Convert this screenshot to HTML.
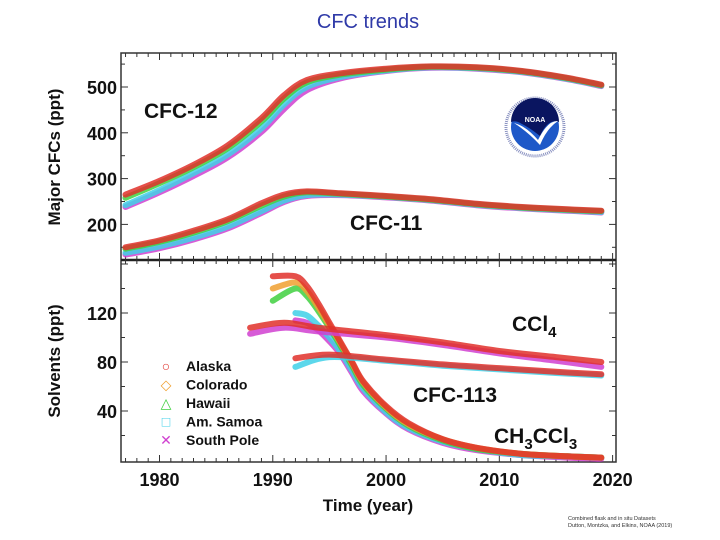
<!DOCTYPE html>
<html><head><meta charset="utf-8"><style>
body{margin:0;background:#fff;}
svg{display:block;font-family:"Liberation Sans",Arial,sans-serif;}
</style></head><body>
<svg id="chart" width="720" height="540" viewBox="0 0 720 540" xmlns="http://www.w3.org/2000/svg">
<text x="368" y="28" text-anchor="middle" font-size="20" fill="#2f3aa8">CFC trends</text>
<g id="plot"></g>
</svg>
<script>
// ---- data ----
const stations = ["Alaska","Colorado","Hawaii","Am. Samoa","South Pole"];
const stationColors = ["#e0302a","#f0a030","#40d040","#40d0e8","#d040d0"];
const cfc12Years = [1977,1980,1983,1986,1989,1991,1993,1996,2000,2004,2008,2012,2016,2019];
const cfc12Alaska = [265,295,330,372,432,482,515,530,540,545,543,535,520,505];
const cfc12Hawaii = [258,290,325,366,425,475,510,527,538,544,542,534,519,504];
const cfc12Samoa = [242,275,312,352,410,462,500,522,536,543,541,533,518,503];
const cfc12SouthPole = [238,270,306,346,402,452,493,519,535,542,540,532,517,502];
const cfc11Years = [1977,1980,1983,1986,1989,1991,1993,1996,2000,2004,2008,2012,2016,2019];
const cfc11Alaska = [150,165,186,211,246,265,272,268,262,255,245,238,233,230];
const cfc11Hawaii = [147,162,182,207,241,261,270,267,261,254,244,237,232,229];
const cfc11Samoa = [138,152,171,195,229,252,264,265,260,253,243,236,231,227];
const cfc11SouthPole = [134,148,167,191,225,249,262,264,259,252,242,235,230,226];
const mcYears = [1990,1992,1993,1994,1995,1996,1997,1998,2000,2002,2005,2008,2012,2016,2019];
const mcAlaska = [150,150,142,128,112,96,80,64,44,30,17,10,5,3,2];
const mcColorado = [140,145,138,125,110,95,79,63,43,29,17,10,5,3,2];
const mcHawaii = [130,140,134,122,108,93,77,61,42,28,16,9,5,3,2];
const mcSamoa = [null,120,118,110,100,88,73,58,39,26,15,9,4,3,2];
const mcSouthPole = [null,114,112,106,97,86,71,56,38,25,14,8,4,2,1];
const ccl4Years = [1988,1991,1994,2000,2005,2010,2015,2019];
const ccl4Alaska = [108,112,108,102,96,89,84,80];
const ccl4SouthPole = [103,108,105,100,94,87,81,76];
const c113Years = [1992,1995,2000,2005,2010,2015,2019];
const c113Alaska = [83,86,82,78,75,72,70];
const c113Samoa = [76,84,81,77,74,71,69];
const yTicksTop = [200,300,400,500];
const yTicksBot = [40,80,120];
const xTicks = [1980,1990,2000,2010,2020];

// ---- axes ----
const L=121,R=616,T=53,D=260,B=462;
const x = yr => L + (yr-1976.6)/(2020.3-1976.6)*(R-L);
const yTop = v => 87 + (500-v)*0.458;
const yBot = v => 362 + (80-v)*1.225;
const NS="http://www.w3.org/2000/svg";
const g=document.getElementById('plot');
function mk(tag,attrs,parent){const e=document.createElementNS(NS,tag);for(const k in attrs)e.setAttribute(k,attrs[k]);(parent||g).appendChild(e);return e;}

const frame=mk('rect',{x:L,y:T,width:R-L,height:B-T,fill:'none',stroke:'#333','stroke-width':1.5});


const div=mk('line',{x1:L,x2:R,y1:D,y2:D,stroke:'#222','stroke-width':2.5});


for(let yr=1977;yr<=2020;yr++){
  const big=yr%10===0, len=big?7:4;
  [[T,1],[D,1],[D,-1],[B,-1]].forEach(([yy,s])=>{
    const t=mk('line',{x1:x(yr),x2:x(yr),y1:yy,y2:yy+s*len,stroke:'#333','stroke-width':1});
    
    
  });
}
xTicks.forEach(v=>{
  const t=mk('text',{x:x(v),y:486,'text-anchor':'middle','font-size':18,'font-weight':'bold',fill:'#111'});
  t.textContent=v;
  
  
});
for(let v=150;v<=550;v+=50){[[L,1],[R,-1]].forEach(([xx,s])=>{const t=mk('line',{x1:xx,x2:xx+s*(v%100===0?7:4),y1:yTop(v),y2:yTop(v),stroke:'#333'});});}
yTicksTop.forEach(v=>{const t=mk('text',{x:L-4,y:yTop(v)+7,'text-anchor':'end','font-size':18,'font-weight':'bold',fill:'#111'});t.textContent=v;});
for(let v=20;v<=160;v+=20){[[L,1],[R,-1]].forEach(([xx,s])=>{const t=mk('line',{x1:xx,x2:xx+s*(v%40===0?7:4),y1:yBot(v),y2:yBot(v),stroke:'#333'});});}
yTicksBot.forEach(v=>{const t=mk('text',{x:L-4,y:yBot(v)+7,'text-anchor':'end','font-size':18,'font-weight':'bold',fill:'#111'});t.textContent=v;});

let t=mk('text',{x:0,y:0,transform:'translate(60,157) rotate(-90)','text-anchor':'middle','font-size':17,'font-weight':'bold',fill:'#111'});t.textContent='Major CFCs (ppt)';


t=mk('text',{x:0,y:0,transform:'translate(60,361) rotate(-90)','text-anchor':'middle','font-size':17,'font-weight':'bold',fill:'#111'});t.textContent='Solvents (ppt)';


t=mk('text',{x:368,y:511,'text-anchor':'middle','font-size':17,'font-weight':'bold',fill:'#111'});t.textContent='Time (year)';



// smooth series (Catmull-Rom)
function series(years,vals,yf,color,name){
  const P=[];years.forEach((yr,i)=>{if(vals[i]!=null)P.push([x(yr),yf(vals[i])]);});
  let d='M'+P[0][0].toFixed(1)+','+P[0][1].toFixed(1);
  for(let i=0;i<P.length-1;i++){
    const p0=P[Math.max(0,i-1)],p1=P[i],p2=P[i+1],p3=P[Math.min(P.length-1,i+2)];
    const c1=[p1[0]+(p2[0]-p0[0])/6,p1[1]+(p2[1]-p0[1])/6];
    const c2=[p2[0]-(p3[0]-p1[0])/6,p2[1]-(p3[1]-p1[1])/6];
    d+=' C'+c1.map(v=>v.toFixed(1)).join(',')+' '+c2.map(v=>v.toFixed(1)).join(',')+' '+p2.map(v=>v.toFixed(1)).join(',');
  }
  const p=mk('path',{d:d,fill:'none',stroke:color,'stroke-width':6,'stroke-linejoin':'round','stroke-linecap':'round',opacity:0.85});
  
  
}
const C=stationColors;
series(cfc12Years,cfc12SouthPole,yTop,C[4],'cfc12-south-pole');
series(cfc12Years,cfc12Samoa,yTop,C[3],'cfc12-samoa');
series(cfc12Years,cfc12Hawaii,yTop,C[2],'cfc12-hawaii');
series(cfc12Years,cfc12Alaska,yTop,C[0],'cfc12-alaska');
series(cfc11Years,cfc11SouthPole,yTop,C[4],'cfc11-south-pole');
series(cfc11Years,cfc11Samoa,yTop,C[3],'cfc11-samoa');
series(cfc11Years,cfc11Hawaii,yTop,C[2],'cfc11-hawaii');
series(cfc11Years,cfc11Alaska,yTop,C[0],'cfc11-alaska');
series(mcYears,mcSouthPole,yBot,C[4],'ch3ccl3-south-pole');
series(mcYears,mcSamoa,yBot,C[3],'ch3ccl3-samoa');
series(mcYears,mcHawaii,yBot,C[2],'ch3ccl3-hawaii');
series(mcYears,mcColorado,yBot,C[1],'ch3ccl3-colorado');
series(mcYears,mcAlaska,yBot,C[0],'ch3ccl3-alaska');
series(ccl4Years,ccl4SouthPole,yBot,C[4],'ccl4-south-pole');
series(ccl4Years,ccl4Alaska,yBot,C[0],'ccl4-alaska');
series(c113Years,c113Samoa,yBot,C[3],'cfc113-samoa');
series(c113Years,c113Alaska,yBot,C[0],'cfc113-alaska');

function lbl(xx,yy,txt,name){const e=mk('text',{x:xx,y:yy,'font-size':21,'font-weight':'bold',fill:'#111'});e.innerHTML=txt;}
lbl(144,118,'CFC-12','label-cfc12');
lbl(350,230,'CFC-11','label-cfc11');
lbl(512,331,'CCl<tspan font-size="15" dy="6">4</tspan>','label-ccl4');
lbl(413,402,'CFC-113','label-cfc113');
lbl(494,443,'CH<tspan font-size="15" dy="6">3</tspan><tspan dy="-6">CCl</tspan><tspan font-size="15" dy="6">3</tspan>','label-ch3ccl3');

const markers=['○','◇','△','□','✕'];
stations.forEach((s,i)=>{
  const yy=371+i*18.5;
  const m=mk('text',{x:166,y:yy,'text-anchor':'middle','font-size':14,fill:C[i]});m.textContent=markers[i];
  
  
  const l=mk('text',{x:186,y:yy,'font-size':14,'font-weight':'bold',fill:'#111'});l.textContent=s;
  
  
});

const lg=mk('g',{});


mk('circle',{cx:535,cy:127,r:29,fill:'#fff',stroke:'#8890c0','stroke-width':3,'stroke-dasharray':'1 1'},lg);
mk('circle',{cx:535,cy:127,r:24,fill:'#1e58c8'},lg);
mk('path',{d:'M511,122 A24,24 0 0 1 559,122 Q548,118 540,136 Q530,128 522,124 Q516,120 511,122Z',fill:'#0a1560'},lg);
mk('path',{d:'M514,123 Q526,126 538,140 Q548,120 558,121 Q547,128 540,145 Q528,132 514,123Z',fill:'#fff'},lg);
const nt=mk('text',{x:535,y:122,'text-anchor':'middle','font-size':7,'font-weight':'bold',fill:'#fff'},lg);nt.textContent='NOAA';

const s1=mk('text',{x:568,y:520,'font-size':5.5,fill:'#333'});s1.textContent='Combined flask and in situ Datasets';


const s2=mk('text',{x:568,y:527,'font-size':5.5,fill:'#333'});s2.textContent='Dutton, Montzka, and Elkins, NOAA (2019)';


</script>
</body></html>
